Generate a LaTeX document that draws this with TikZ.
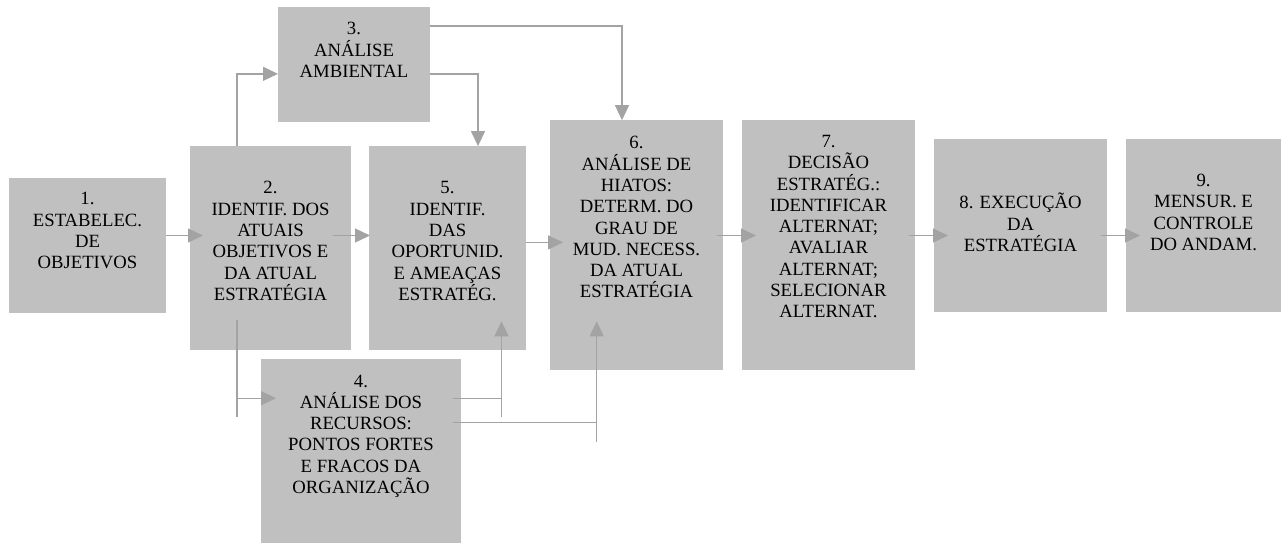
\documentclass[tikz,border=0pt]{standalone}
\usepackage{fontspec}
\setmainfont{Liberation Serif}
\usetikzlibrary{arrows.meta}
\definecolor{boxgray}{HTML}{C0C0C0}
\definecolor{arrgray}{HTML}{A3A3A3}
\begin{document}
\begin{tikzpicture}[x=1pt,y=-1pt,
  box/.style={fill=boxgray, draw=none, anchor=north west, inner sep=0pt, outer sep=0pt},
  txt/.style={anchor=base, align=center, inner sep=0pt, font=\fontsize{18.7pt}{21.3pt}\selectfont},
  arr/.style={draw=arrgray, line width=1.3pt, -{Triangle[length=15pt,width=14pt]}},
  ln/.style={draw=arrgray, line width=1.3pt}]
\useasboundingbox (0,0) rectangle (1281,543);
% boxes
\node[box, minimum width=157pt, minimum height=134.4pt] (b1) at (9,178.3) {};
\node[box, minimum width=161pt, minimum height=204.3pt] (b2) at (190,146.1) {};
\node[box, minimum width=152pt, minimum height=115.3pt] (b3) at (278,6.9) {};
\node[box, minimum width=200pt, minimum height=183.9pt] (b4) at (261,359.1) {};
\node[box, minimum width=157pt, minimum height=204.3pt] (b5) at (369,146.1) {};
\node[box, minimum width=173pt, minimum height=249.3pt] (b6) at (550,120.2) {};
\node[box, minimum width=173pt, minimum height=249.3pt] (b7) at (742,120.2) {};
\node[box, minimum width=173pt, minimum height=172.7pt] (b8) at (934,138.9) {};
\node[box, minimum width=155pt, minimum height=172.7pt] (b9) at (1126,138.9) {};
% texts (base anchor = baseline of the last line)
\node[txt] (t1) at ([yshift=-90.3pt]b1.north) {1.\\ESTABELEC.\\DE\\OBJETIVOS};
\node[txt] (t2) at ([yshift=-154.2pt]b2.north) {2.\\IDENTIF. DOS\\ATUAIS\\OBJETIVOS E\\DA ATUAL\\ESTRATÉGIA};
\node[txt] (t3) at ([yshift=-70.7pt]b3.north) {3.\\ANÁLISE\\AMBIENTAL};
\node[txt] (t4) at ([yshift=-134.4pt]b4.north) {4.\\ANÁLISE DOS\\RECURSOS:\\PONTOS FORTES\\E FRACOS DA\\ORGANIZAÇÃO};
\node[txt] (t5) at ([yshift=-154.2pt]b5.north) {5.\\IDENTIF.\\DAS\\OPORTUNID.\\E AMEAÇAS\\ESTRATÉG.};
\node[txt] (t6) at ([yshift=-177.7pt]b6.north) {6.\\ANÁLISE DE\\HIATOS:\\DETERM. DO\\GRAU DE\\MUD. NECESS.\\DA ATUAL\\ESTRATÉGIA};
\node[txt] (t7) at ([yshift=-197.6pt]b7.north) {7.\\DECISÃO\\ESTRATÉG.:\\IDENTIFICAR\\ALTERNAT;\\AVALIAR\\ALTERNAT;\\SELECIONAR\\ALTERNAT.};
\node[txt] (t8) at ([yshift=-112.4pt]b8.north) {8. EXECUÇÃO\\DA\\ESTRATÉGIA};
\node[txt] (t9) at ([yshift=-111.6pt]b9.north) {9.\\MENSUR. E\\CONTROLE\\DO ANDAM.};
% helper coordinates
\coordinate (row) at ([yshift=10pt]b1.east);
\coordinate (row2) at ([yshift=-6.9pt]row);
% main row arrows
\draw[arr] (b1.east |- row) -- ([xshift=13pt]b2.west |- row);
\draw[arr] ([xshift=-18pt]b2.east |- row) -- ([xshift=1pt]b5.west |- row);
\draw[arr] (b5.east |- row2) -- ([xshift=13pt]b6.west |- row2);
\draw[arr] ([xshift=-6pt]b6.east |- row) -- ([xshift=14pt]b7.west |- row);
\draw[arr] ([xshift=-6pt]b7.east |- row) -- ([xshift=14pt]b8.west |- row);
\draw[arr] ([xshift=-6pt]b8.east |- row) -- ([xshift=14pt]b9.west |- row);
% 2 -> 3, 3 -> 5, 3 -> 6
\coordinate (j23) at ([yshift=-9.3pt]b3.west);
\draw[arr] ([xshift=-33.5pt]b2.north) |- (j23);
\draw[arr] ([yshift=-9.3pt]b3.east) -| ([xshift=30.5pt]b5.north);
\draw[arr] ([yshift=38.5pt]b3.east) -| ([xshift=-14.5pt]b6.north);
% 2 -> 4
\coordinate (v24top) at ([xshift=-33.5pt,yshift=30.1pt]b2.south);
\coordinate (v24bot) at ([xshift=-33.5pt,yshift=-66.8pt]b2.south);
\coordinate (j24) at ([xshift=-33.5pt,yshift=-47.8pt]b2.south);
\draw[ln] (v24top) -- (v24bot);
\draw[arr] (j24) -- ([xshift=15pt]b4.west |- j24);
% 4 -> 5
\coordinate (t45) at ([xshift=54pt,yshift=29.1pt]b5.south);
\draw[ln] ([xshift=-8pt]b4.east |- j24) -- (t45 |- j24);
\draw[arr] (t45 |- v24bot) -- (t45);
% 4 -> 6
\coordinate (t46) at ([xshift=-39.8pt,yshift=48.2pt]b6.south);
\coordinate (h46) at ([xshift=-8pt,yshift=28.6pt]b4.east);
\draw[ln] (h46) -- (h46 -| t46);
\draw[arr] ([xshift=-39.8pt,yshift=-72pt]b6.south) -- (t46);
\end{tikzpicture}
\end{document}
